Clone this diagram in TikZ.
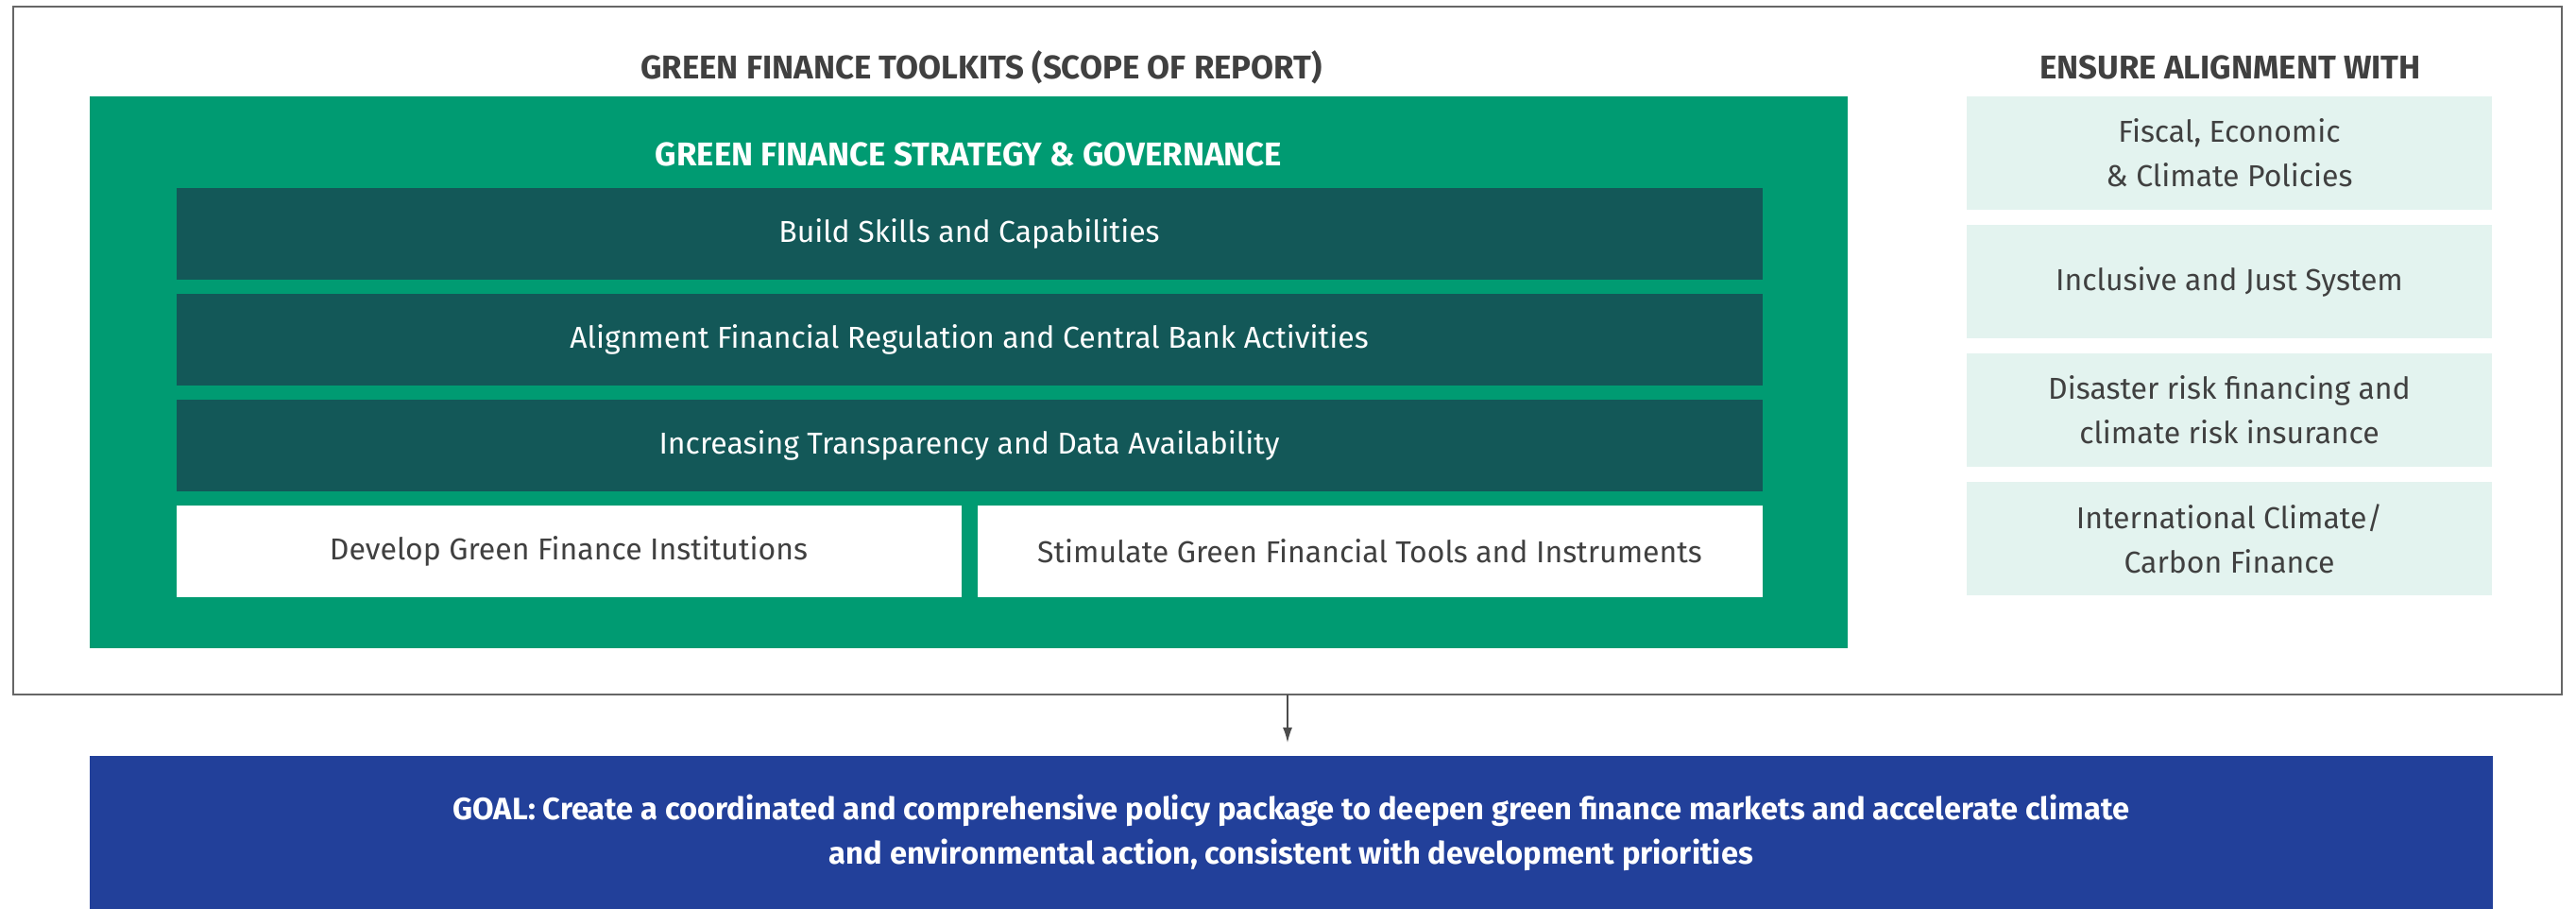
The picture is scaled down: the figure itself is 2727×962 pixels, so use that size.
\documentclass[tikz,border=0pt]{standalone}
\usepackage{fontspec}
\setmainfont{Fira Sans}
\usetikzlibrary{arrows.meta,positioning}
\definecolor{gfgreen}{HTML}{009B72}
\definecolor{gfdark}{HTML}{135858}
\definecolor{gfmint}{HTML}{E3F3EF}
\definecolor{gfblue}{HTML}{22409A}
\definecolor{txtgray}{HTML}{404040}

\begin{document}
\begin{tikzpicture}[x=0.01cm,y=-0.01cm,node distance=0.15cm,
  every node/.style={inner sep=0pt,outer sep=0pt,align=center,font=\fontsize{9.1}{13.4}\selectfont},
  frame/.style={draw=black!60,line width=0.5pt,minimum width=26.96cm,minimum height=7.28cm},
  head/.style={text=txtgray,font=\fontsize{9.9}{12}\selectfont\bfseries},
  panel/.style={fill=gfgreen,minimum width=18.59cm,minimum height=5.84cm},
  darkbox/.style={fill=gfdark,text=white,minimum width=16.78cm,minimum height=0.97cm},
  whitebox/.style={fill=white,text=txtgray,minimum width=8.305cm,minimum height=0.97cm},
  alignbox/.style={fill=gfmint,text=txtgray,minimum width=5.56cm,minimum height=1.2cm},
  goalbox/.style={fill=gfblue,text=white,font=\fontsize{9.3}{13.4}\selectfont\bfseries,minimum width=25.42cm,minimum height=1.62cm},
  arr/.style={-{Latex[length=1.6mm,width=1mm]},draw=black!70,line width=0.4pt}]
\useasboundingbox (0,0) rectangle (2727,962);
% outer frame and headings
\node[frame] (toolkits) at (1363,371) {};
\node[head] (scopehead) at (1039,71) {GREEN FINANCE TOOLKITS (SCOPE OF REPORT)};
\node[head] (alignhead) at (2361,71) {ENSURE ALIGNMENT WITH};
% green panel
\node[panel] (strategy) at (1025.5,394) {};
\node[head,text=white] (stratlabel) at (1025.5,163) {GREEN FINANCE STRATEGY \& GOVERNANCE};
\node[darkbox] (skills) at (1026,247.5) {Build Skills and Capabilities};
\node[darkbox,below=of skills] (regul) {Alignment Financial Regulation and Central Bank Activities};
\node[darkbox,below=of regul] (transp) {Increasing Transparency and Data Availability};
\node[whitebox,below=of transp.south west,anchor=north west] (inst) {Develop Green Finance Institutions};
\node[whitebox,below=of transp.south east,anchor=north east] (tools) {Stimulate Green Financial Tools and Instruments};
% alignment column
\node[alignbox] (fiscal) at (2360,162) {Fiscal, Economic\\ \& Climate Policies};
\node[alignbox,below=0.16cm of fiscal] (inclus) {Inclusive and Just System};
\node[alignbox,below=0.16cm of inclus] (disaster) {Disaster risk financing and\\ climate risk insurance};
\node[alignbox,below=0.16cm of disaster] (intl) {International Climate/\\ Carbon Finance};
% goal
\node[goalbox] (goal) at (1367,881) {GOAL: Create a coordinated and comprehensive policy package to deepen green finance markets and accelerate climate\\ and environmental action, consistent with development priorities};
\draw[arr,shorten >=0.14cm] (toolkits.south) -- (toolkits.south |- goal.north);
\end{tikzpicture}
\end{document}
